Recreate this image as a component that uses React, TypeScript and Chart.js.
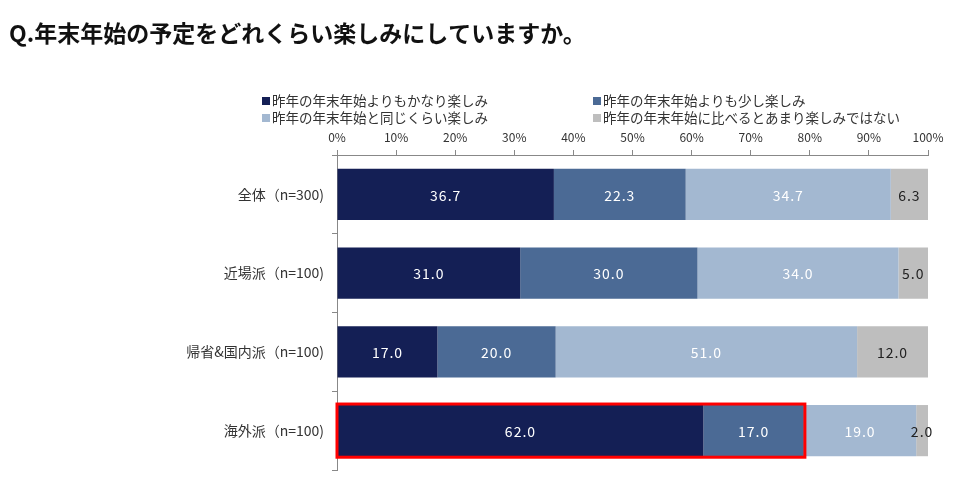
import React, { useEffect, useRef } from "react";
import { Chart, registerables } from "chart.js";

Chart.register(...registerables);

const TITLE = "Q.年末年始の予定をどれくらい楽しみにしていますか。";
const categories = ["全体（n=300)", "近場派（n=100)", "帰省&国内派（n=100)", "海外派（n=100)"];
const seriesLabels = [
  "昨年の年末年始よりもかなり楽しみ",
  "昨年の年末年始よりも少し楽しみ",
  "昨年の年末年始と同じくらい楽しみ",
  "昨年の年末年始に比べるとあまり楽しみではない",
];
const muchMore = [36.7, 31.0, 17.0, 62.0];
const slightlyMore = [22.3, 30.0, 20.0, 17.0];
const same = [34.7, 34.0, 51.0, 19.0];
const less = [6.3, 5.0, 12.0, 2.0];
const colors = ["#141F55", "#4B6A95", "#A3B8D1", "#BEBEBE"];
const labelColors = ["#FFFFFF", "#FFFFFF", "#FFFFFF", "#222222"];
const xTicks = [0, 10, 20, 30, 40, 50, 60, 70, 80, 90, 100];
const highlightIndex = 3;

const FONT = "'Noto Sans CJK JP', 'Noto Sans', sans-serif";

export default function App() {
  const ref = useRef<HTMLCanvasElement | null>(null);
  useEffect(() => {
    document.body.style.margin = "0";
    const canvas = ref.current!;
    const series = [muchMore, slightlyMore, same, less];

    const overlay = {
      id: "overlay",
      afterDraw(chart: any) {
        const ctx = chart.ctx as CanvasRenderingContext2D;
        ctx.save();
        // title
        ctx.fillStyle = "#111111";
        ctx.font = `bold 23px ${FONT}`;
        ctx.textAlign = "left";
        ctx.textBaseline = "middle";
        ctx.fillText(TITLE, 9, 33);
        // legend
        ctx.font = `13.5px ${FONT}`;
        const legendPos = [
          [262, 101],
          [593, 101],
          [262, 118],
          [593, 118],
        ];
        seriesLabels.forEach((lab, i) => {
          const [x, y] = legendPos[i];
          ctx.fillStyle = colors[i];
          ctx.fillRect(x, y - 4, 8, 8);
          ctx.fillStyle = "#333333";
          ctx.fillText(lab, x + 10, y);
        });
        // data labels
        ctx.font = `14px ${FONT}`;
        (ctx as any).letterSpacing = "1px";
        ctx.textAlign = "center";
        series.forEach((_, di) => {
          const meta = chart.getDatasetMeta(di);
          meta.data.forEach((bar: any, i: number) => {
            const v = series[di][i];
            const cx = (bar.x + bar.base) / 2;
            ctx.fillStyle = labelColors[di];
            ctx.fillText(v.toFixed(1), cx, bar.y + 1);
          });
        });
        (ctx as any).letterSpacing = "0px";
        // highlight box
        const xs = chart.scales.x;
        const bar0 = chart.getDatasetMeta(0).data[highlightIndex] as any;
        const x0 = xs.getPixelForValue(0);
        const x1 = xs.getPixelForValue(muchMore[highlightIndex] + slightlyMore[highlightIndex]);
        const h = bar0.height;
        ctx.strokeStyle = "#FF0000";
        ctx.lineWidth = 3;
        ctx.strokeRect(x0, bar0.y - h / 2 - 1, x1 - x0 + 1, h + 2);
        ctx.restore();
      },
    };

    const chart = new Chart(canvas, {
      type: "bar",
      data: {
        labels: categories,
        datasets: series.map((d, i) => ({
          label: seriesLabels[i],
          data: d,
          backgroundColor: colors[i],
          borderWidth: 0,
          categoryPercentage: 1,
          barPercentage: 0.65,
        })),
      },
      options: {
        indexAxis: "y",
        animation: false,
        responsive: false,
        maintainAspectRatio: false,
        layout: { padding: { left: 0, right: 28, top: 120, bottom: 18 } },
        plugins: {
          legend: { display: false },
          tooltip: { enabled: false },
          title: { display: false },
        },
        scales: {
          x: {
            position: "top",
            stacked: true,
            min: 0,
            max: 100,
            afterBuildTicks(scale: any) {
              scale.ticks = xTicks.map((v) => ({ value: v }));
            },
            afterFit(scale: any) {
              scale.height = 35;
            },
            ticks: {
              callback: (v: any) => `${v}%`,
              font: { family: FONT, size: 12 },
              color: "#333333",
              padding: 5,
              maxRotation: 0,
            },
            grid: {
              drawOnChartArea: false,
              drawTicks: true,
              tickLength: 5,
              color: "#888888",
            },
            border: { color: "#888888" },
          },
          y: {
            stacked: true,
            afterFit(scale: any) {
              scale.width = 337;
            },
            ticks: {
              font: { family: FONT, size: 14 },
              color: "#333333",
              padding: 8,
            },
            grid: {
              drawOnChartArea: false,
              drawTicks: true,
              tickLength: 5,
              offset: true,
              color: "#888888",
            },
            border: { color: "#888888" },
          },
        },
      } as any,
      plugins: [overlay],
    });
    return () => chart.destroy();
  }, []);
  return (
    <div style={{ position: "relative", width: 956, height: 488, background: "#fff" }}>
      <canvas ref={ref} width={956} height={488} style={{ width: 956, height: 488 }} />
    </div>
  );
}
